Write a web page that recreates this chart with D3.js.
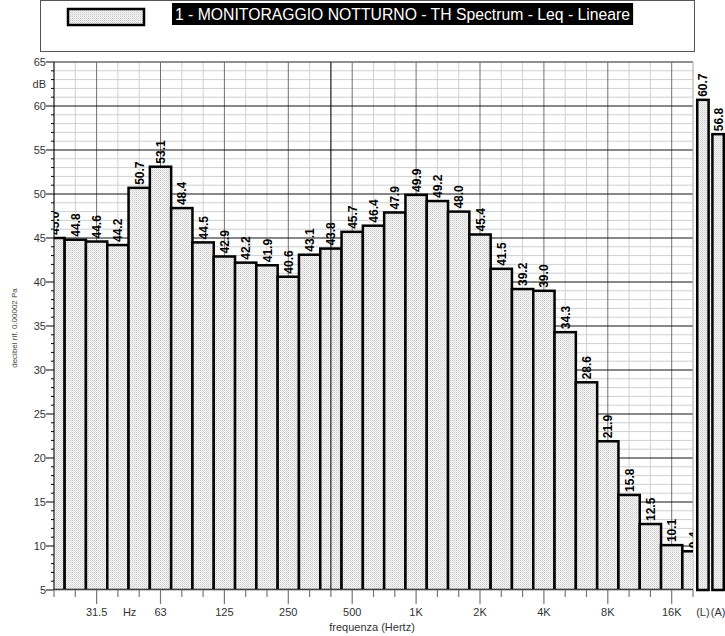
<!DOCTYPE html>
<html><head><meta charset="utf-8">
<script src="https://cdn.jsdelivr.net/npm/d3@7"></script>
<style>body{margin:0;background:#fff}svg{display:block;font-family:"Liberation Sans",Arial,sans-serif}</style>
</head><body><svg id="c" width="725" height="636"></svg>
<script>
const bandLabels = ["20","25","31.5","40","50","63","80","100","125","160","200","250","315","400","500","630","800","1K","1.25K","1.6K","2K","2.5K","3.15K","4K","5K","6.3K","8K","10K","12.5K","16K","20K"];
const bandFreqs = [20,25,31.5,40,50,63,80,100,125,160,200,250,315,400,500,630,800,1000,1250,1600,2000,2500,3150,4000,5000,6300,8000,10000,12500,16000,20000];
const bandValues = [45.0,44.8,44.6,44.2,50.7,53.1,48.4,44.5,42.9,42.2,41.9,40.6,43.1,43.8,45.7,46.4,47.9,49.9,49.2,48.0,45.4,41.5,39.2,39.0,34.3,28.6,21.9,15.8,12.5,10.1,9.4];
const totalLabels = ["(L)","(A)"];
const totalValues = [60.7,56.8];
const yTickValues = [5,10,15,20,25,30,35,40,45,50,55,60,65];
const xMajorFreqs = [31.5,63,125,250,500,1000,2000,4000,8000,16000];
const xMajorLabels = ["31.5","63","125","250","500","1K","2K","4K","8K","16K"];
const legendText = "1 - MONITORAGGIO NOTTURNO - TH Spectrum - Leq - Lineare";

const svg = d3.select("#c");
const L = 54, R = 693, T = 62, B = 590;
const bandIdx = f => Math.round(3*Math.log2(f/1000));
const exact = n => 1000*Math.pow(2, n/3);
const x = d3.scaleLog().domain([exact(bandIdx(20)), exact(bandIdx(20000))]).range([L, R]);
const y = d3.scaleLinear().domain([5,65]).range([B, T]);

// pattern
const defs = svg.append("defs");
const pat = defs.append("pattern").attr("id","dots").attr("width",2).attr("height",2).attr("patternUnits","userSpaceOnUse");
pat.append("rect").attr("width",2).attr("height",2).attr("fill","#f5f5f5");
pat.append("rect").attr("x",0).attr("y",0).attr("width",1).attr("height",1).attr("fill","#cdcdcd");
pat.append("rect").attr("x",1).attr("y",1).attr("width",1).attr("height",1).attr("fill","#e0e0e0");
defs.append("clipPath").attr("id","plotclip").append("rect").attr("x",L).attr("y",0).attr("width",R-L).attr("height",B);

// legend
svg.append("rect").attr("x",40.5).attr("y",0.5).attr("width",654).attr("height",51).attr("fill","#fff").attr("stroke","#555").attr("stroke-width",1);
svg.append("rect").attr("x",68).attr("y",9).attr("width",76).attr("height",16).attr("fill","url(#dots)").attr("stroke","#000").attr("stroke-width",2.5);
const lt = svg.append("text").attr("x",175).attr("y",20).attr("font-size",16).attr("fill","#fff").attr("textLength",455).attr("lengthAdjust","spacingAndGlyphs").text(legendText);
const bb = lt.node().getBBox();
svg.insert("rect","text").attr("x",bb.x-3).attr("y",3).attr("width",bb.width+6).attr("height",22).attr("fill","#000");

// grid
const g = svg.append("g");
d3.range(5,66,1).forEach(v=>{
  if (v%5!==0) g.append("line").attr("x1",L).attr("x2",R).attr("y1",y(v)).attr("y2",y(v)).attr("stroke","#cfcfcf").attr("stroke-width",1);
});
bandFreqs.forEach(f=>{
  const n = bandIdx(f), cx = x(exact(n));
  const major = xMajorFreqs.includes(f);
  g.append("line").attr("x1",cx).attr("x2",cx).attr("y1",T).attr("y2",B).attr("stroke",major?"#707070":"#cfcfcf").attr("stroke-width",1);
});
d3.range(10,66,5).forEach(v=>{
  g.append("line").attr("x1",L).attr("x2",R).attr("y1",y(v)).attr("y2",y(v)).attr("stroke","#111").attr("stroke-width",1);
});
// plot border
svg.append("line").attr("x1",L).attr("x2",R).attr("y1",T).attr("y2",T).attr("stroke","#999");
svg.append("line").attr("x1",R).attr("x2",R).attr("y1",T).attr("y2",B).attr("stroke","#bbb");

// bars
const bars = svg.append("g").attr("clip-path","url(#plotclip)");
bandFreqs.forEach((f,i)=>{
  const n = bandIdx(f);
  const x0 = x(exact(n-0.5)), x1 = x(exact(n+0.5));
  bars.append("rect").attr("x",x0).attr("y",y(bandValues[i])).attr("width",x1-x0).attr("height",B-y(bandValues[i]))
    .attr("fill","url(#dots)").attr("stroke","#000").attr("stroke-width",2.5);
});
// cursor line
svg.append("line").attr("x1",x(exact(bandIdx(400)))).attr("x2",x(exact(bandIdx(400)))).attr("y1",T).attr("y2",B).attr("stroke","#000").attr("stroke-width",1);
bandFreqs.forEach((f,i)=>{
  const cx = x(exact(bandIdx(f)));
  const ty = y(bandValues[i]) - 3;
  bars.append("text").attr("transform",`translate(${cx+4.5},${ty}) rotate(-90)`).attr("font-size",12).attr("font-weight","bold").attr("fill","#000").text(bandValues[i].toFixed(1));
});

// total bars
const tx = d3.scaleBand().domain(totalLabels).range([696,725]).paddingInner(0.25).paddingOuter(0.08);
totalLabels.forEach((lab,i)=>{
  svg.append("rect").attr("x",tx(lab)).attr("y",y(totalValues[i])).attr("width",tx.bandwidth()).attr("height",B-y(totalValues[i]))
    .attr("fill","url(#dots)").attr("stroke","#000").attr("stroke-width",2.5);
  const cx = tx(lab)+tx.bandwidth()/2;
  svg.append("text").attr("transform",`translate(${cx+4.5},${y(totalValues[i])-3}) rotate(-90)`).attr("font-size",12).attr("font-weight","bold").text(totalValues[i].toFixed(1));
  svg.append("text").attr("x",cx).attr("y",616).attr("text-anchor","middle").attr("font-size",11).attr("fill","#333").text(lab);
});

// y axis
svg.append("line").attr("x1",L).attr("x2",L).attr("y1",T).attr("y2",B).attr("stroke","#000");
d3.range(5,66,1).forEach(v=>{
  const major = v%5===0;
  svg.append("line").attr("x1",major?L-8:L-3).attr("x2",L).attr("y1",y(v)).attr("y2",y(v)).attr("stroke","#000");
});
yTickValues.forEach(v=>{
  svg.append("text").attr("x",46).attr("y",y(v)+4).attr("text-anchor","end").attr("font-size",11).attr("fill","#333").text(v);
});
svg.append("text").attr("x",46).attr("y",88).attr("text-anchor","end").attr("font-size",11).attr("fill","#333").text("dB");
svg.append("text").attr("transform","translate(17,328) rotate(-90)").attr("text-anchor","middle").attr("font-size",8).attr("fill","#444").text("decibel rif. 0.00002 Pa");

// x axis
svg.append("line").attr("x1",L).attr("x2",R).attr("y1",B).attr("y2",B).attr("stroke","#888");
bandFreqs.forEach(f=>{
  const cx = x(exact(bandIdx(f)));
  const major = xMajorFreqs.includes(f);
  svg.append("line").attr("x1",cx).attr("x2",cx).attr("y1",B).attr("y2",B+(major?14:7)).attr("stroke","#777").attr("stroke-width",1.2);
});
xMajorFreqs.forEach((f,i)=>{
  svg.append("text").attr("x",x(exact(bandIdx(f)))).attr("y",616).attr("text-anchor","middle").attr("font-size",11).attr("fill","#333").text(xMajorLabels[i]);
});
svg.append("text").attr("x",x(Math.sqrt(40*50))).attr("y",616).attr("text-anchor","middle").attr("font-size",11).attr("fill","#333").text("Hz");
svg.append("text").attr("x",372).attr("y",631).attr("text-anchor","middle").attr("font-size",11).attr("fill","#333").text("frequenza (Hertz)");
</script></body></html>
